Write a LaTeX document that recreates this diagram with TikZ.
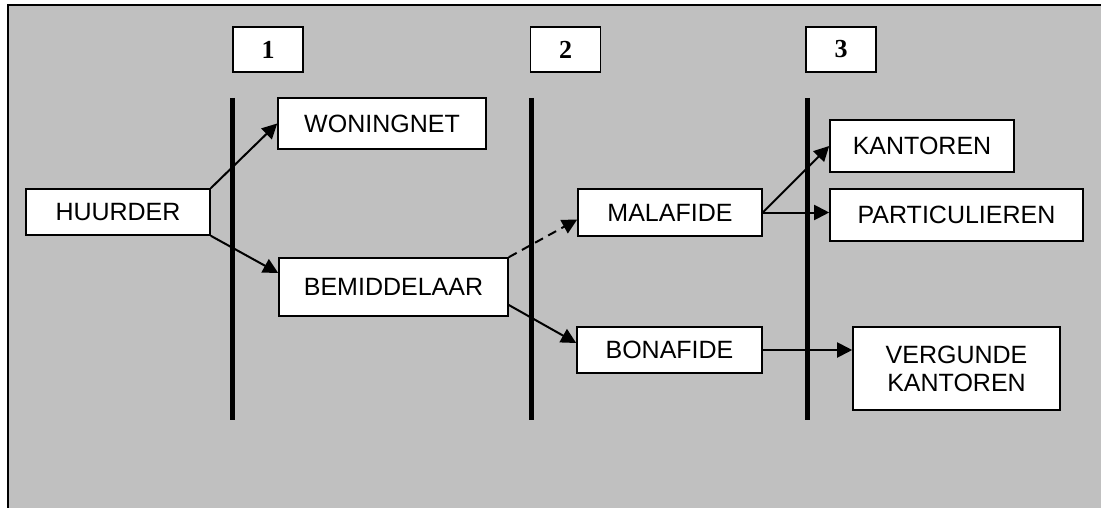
\documentclass[tikz,border=0pt]{standalone}
\usepackage{fontspec}
\setmainfont{Liberation Sans}
\newfontfamily\numfont{Liberation Serif}
\usetikzlibrary{arrows.meta}
\definecolor{panel}{RGB}{192,192,192}
\tikzset{
  lbl/.style={draw=black, line width=1.6pt, fill=white, inner sep=0pt,
              font=\fontsize{25}{28}\selectfont, align=center},
  numbox/.style={draw=black, line width=1.6pt, fill=white, inner sep=0pt,
                 minimum width=70pt, minimum height=45pt,
                 font=\numfont\bfseries\fontsize{26}{28}\selectfont},
  divider/.style={line width=5pt, black},
  link/.style={line width=2pt, -{Triangle[length=15pt,width=15pt]}},
}
\begin{document}
\begin{tikzpicture}[x=1pt,y=-1pt]
  \useasboundingbox (0,0) rectangle (1101,508);
  \fill[white] (0,0) rectangle (1101,508);
  \begin{scope}
    \clip (0,0) rectangle (1101,508);
    \draw[fill=panel, draw=black, line width=2pt] (8,5) rectangle (1120,530);
  \end{scope}

  % phase headers
  \node[numbox] (p1) at (268,49.5) {1};
  \node[numbox] (p2) at (565.5,49.5) {2};
  \node[numbox] (p3) at (841,49.5) {3};

  % phase dividers
  \coordinate (d1t) at (232,98);  \coordinate (d1b) at (232,420);
  \coordinate (d2t) at (531,98);  \coordinate (d2b) at (531,420);
  \coordinate (d3t) at (807,98);  \coordinate (d3b) at (807,420);
  \draw[divider] (d1t) -- (d1b);
  \draw[divider] (d2t) -- (d2b);
  \draw[divider] (d3t) -- (d3b);

  % actors
  \node[lbl, minimum width=184pt, minimum height=46pt] (huurder) at (118,212) {HUURDER};
  \node[lbl, minimum width=208pt, minimum height=51pt] (woning) at (382,123.5) {WONINGNET};
  \node[lbl, minimum width=229pt, minimum height=58pt] (bemid) at (393.5,287) {BEMIDDELAAR};
  \node[lbl, minimum width=184pt, minimum height=47pt] (mala) at (670,212.5) {MALAFIDE};
  \node[lbl, minimum width=185pt, minimum height=46pt] (bona) at (669.5,350) {BONAFIDE};
  \node[lbl, minimum width=184pt, minimum height=52pt] (kant) at (922,146) {KANTOREN};
  \node[lbl, minimum width=253pt, minimum height=52pt] (part) at (956.5,215) {PARTICULIEREN};
  \node[lbl, minimum width=207pt, minimum height=83pt] (verg) at (956.5,368.5) {VERGUNDE\\KANTOREN};

  % flows
  \draw[link] (huurder.north east) -- (woning.west);
  \draw[link] (huurder.south east) -- ([yshift=14pt]bemid.west);
  \draw[link, dash pattern=on 9pt off 6pt] (bemid.north east) -- ([yshift=-7pt]mala.west);
  \draw[link] ([yshift=-18pt]bemid.east) -- ([yshift=7pt]bona.west);
  \draw[link] (mala.east) -- (kant.west);
  \draw[link] (mala.east) -- (mala.east -| part.west);
  \draw[link] (bona.east) -- (bona.east -| verg.west);
\end{tikzpicture}
\end{document}
